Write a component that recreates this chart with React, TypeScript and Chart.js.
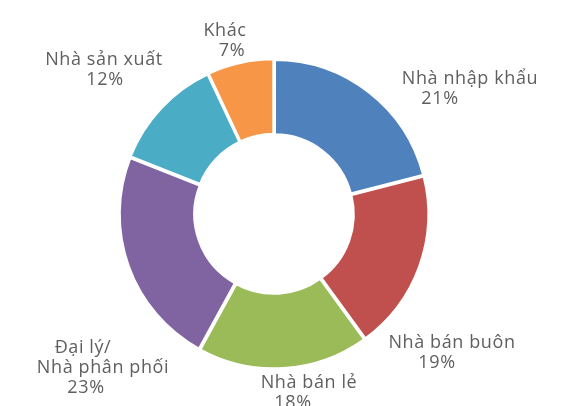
import React, { useEffect, useRef } from "react";
import { Chart, registerables } from "chart.js";

Chart.register(...registerables);

const categories = ["Nhà nhập khẩu", "Nhà bán buôn", "Nhà bán lẻ", "Đại lý/\nNhà phân phối", "Nhà sản xuất", "Khác"];
const shares = [21, 19, 18, 23, 12, 7];
const colors = ["#4F81BD", "#C0504D", "#9BBB59", "#8064A2", "#4BACC6", "#F79646"];

// label line centres (x) and first-line y for each category
const labelAnchors = [
  { xs: [470, 440], y: 79 },
  { xs: [452, 437], y: 343 },
  { xs: [309, 293], y: 383 },
  { xs: [83, 103, 86], y: 348 },
  { xs: [104, 105], y: 60 },
  { xs: [225, 232], y: 31 },
];

const labelPlugin = {
  id: "outerLabels",
  afterDraw(chart: any) {
    const ctx = chart.ctx;
    ctx.save();
    ctx.fillStyle = "#5f5f5f";
    ctx.font = "18px 'Open Sans'";
    try {
      (ctx as any).letterSpacing = "0.6px";
    } catch (e) {}
    ctx.textAlign = "center";
    ctx.textBaseline = "middle";
    categories.forEach((c, i) => {
      const lines = [...c.split("\n"), `${shares[i]}%`];
      const a = labelAnchors[i];
      lines.forEach((t, j) => {
        ctx.fillText(t, a.xs[j], a.y + j * 20);
      });
    });
    ctx.restore();
  },
};

export default function App() {
  const ref = useRef<HTMLCanvasElement>(null);
  useEffect(() => {
    document.body.style.margin = "0";
    const chart = new Chart(ref.current!, {
      type: "doughnut",
      data: {
        labels: categories,
        datasets: [
          {
            data: shares,
            backgroundColor: colors,
            borderColor: "#ffffff",
            borderWidth: 3,
            offset: 3,
          },
        ],
      },
      options: {
        responsive: false,
        animation: false,
        cutout: "51%",
        layout: { padding: { top: 57, bottom: 35, left: 117, right: 138 } },
        plugins: { legend: { display: false }, tooltip: { enabled: false } },
      },
      plugins: [labelPlugin],
    });
    return () => chart.destroy();
  }, []);
  return <canvas ref={ref} width={569} height={406} style={{ display: "block" }} />;
}
